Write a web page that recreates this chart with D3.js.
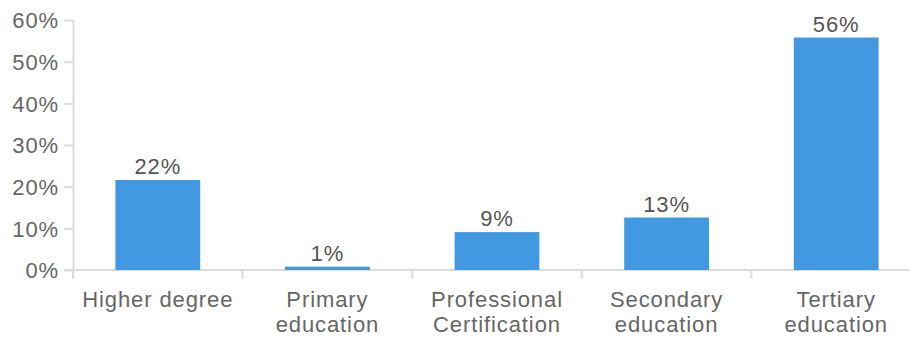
<!DOCTYPE html>
<html>
<head>
<meta charset="utf-8">
<script src="https://cdn.jsdelivr.net/npm/d3@7"></script>
<style>
  html, body { margin: 0; padding: 0; background: #fff; }
  svg text { font-family: "Liberation Sans", Arial, sans-serif; }
</style>
</head>
<body>
<svg id="chart" width="910" height="340"></svg>
<script>
// Education level shares
const categories = [
  ["Higher degree"],
  ["Primary", "education"],
  ["Professional", "Certification"],
  ["Secondary", "education"],
  ["Tertiary", "education"]
];
const shares = [0.216, 0.008, 0.091, 0.126, 0.558];
const yTicks = [0, 0.1, 0.2, 0.3, 0.4, 0.5, 0.6];

const svg = d3.select("#chart");
const plotLeft = 73, plotRight = 921, plotTop = 20, plotBottom = 270;
const axisColor = "#dcdcdc";
const textColor = "#666";
const fontSize = "22px";
const spacing = "0.9px";

const keys = categories.map(c => c.join(" "));
const x = d3.scaleBand().domain(keys).range([plotLeft, plotRight])
  .paddingInner(0.5).paddingOuter(0.25);
const y = d3.scaleLinear().domain([0, 0.6]).range([plotBottom, plotTop]);
const pct = d3.format(".0%");

// y axis
const yAxis = svg.append("g").attr("transform", `translate(${plotLeft},0)`)
  .call(d3.axisLeft(y).tickValues(yTicks).tickFormat(pct).tickSize(9).tickPadding(5));
yAxis.select(".domain").attr("stroke", axisColor).attr("stroke-width", 2)
  .attr("d", `M0.5,${plotTop}V${plotBottom}`);
yAxis.selectAll(".tick line").attr("stroke", axisColor).attr("stroke-width", 2);
yAxis.selectAll(".tick text").attr("fill", textColor)
  .style("font-size", fontSize).style("letter-spacing", spacing).attr("dy", "0.36em");

// x axis baseline and category boundary ticks
const xg = svg.append("g");
xg.append("line").attr("x1", plotLeft - 9).attr("x2", 910)
  .attr("y1", plotBottom).attr("y2", plotBottom)
  .attr("stroke", axisColor).attr("stroke-width", 2);
xg.selectAll("line.bound").data(keys).join("line").attr("class", "bound")
  .attr("x1", d => x(d) - x.step() * 0.25).attr("x2", d => x(d) - x.step() * 0.25)
  .attr("y1", plotBottom).attr("y2", plotBottom + 9)
  .attr("stroke", axisColor).attr("stroke-width", 2);

// category labels
const lbl = svg.append("g").selectAll("text").data(categories).join("text")
  .attr("text-anchor", "middle")
  .attr("fill", textColor).style("font-size", fontSize).style("letter-spacing", spacing);
lbl.selectAll("tspan").data((d, i) => d.map(t => ({ t, k: keys[i] }))).join("tspan")
  .attr("x", d => x(d.k) + x.bandwidth() / 2)
  .attr("y", (d, j) => 307 + j * 25)
  .text(d => d.t);

// bars
svg.append("g").selectAll("rect").data(shares).join("rect")
  .attr("x", (d, i) => x(keys[i]))
  .attr("width", x.bandwidth())
  .attr("y", d => y(d))
  .attr("height", d => y(0) - y(d))
  .attr("fill", "#4299e1");

// value labels
svg.append("g").selectAll("text").data(shares).join("text")
  .attr("x", (d, i) => x(keys[i]) + x.bandwidth() / 2)
  .attr("y", d => y(d) - 6)
  .attr("text-anchor", "middle")
  .attr("fill", "#555").style("font-size", fontSize).style("letter-spacing", spacing)
  .text(d => pct(d));
</script>
</body>
</html>
